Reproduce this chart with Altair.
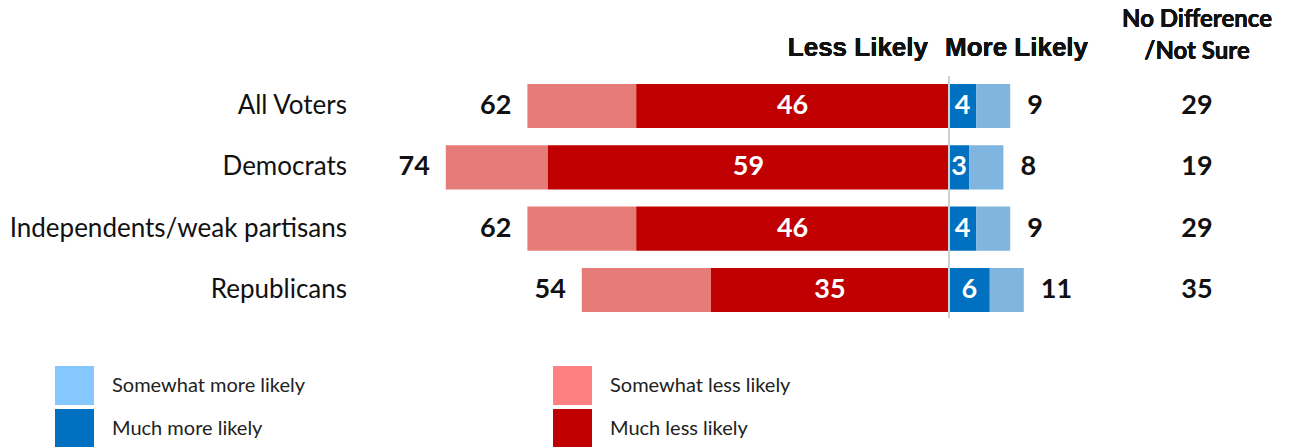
import altair as alt
import pandas as pd

groups = ["All Voters", "Democrats", "Independents/weak partisans", "Republicans"]
less_total = [62, 74, 62, 54]
much_less = [46, 59, 46, 35]
much_more = [4, 3, 4, 6]
more_total = [9, 8, 9, 11]
no_diff = [29, 19, 29, 35]

segments = ["Somewhat more likely", "Much more likely", "Somewhat less likely", "Much less likely"]
bar_colors = ["#7FB5DF", "#0070C0", "#E67C78", "#C00000"]
legend_colors = ["#85C8FF", "#0070C0", "#FF8080", "#C00000"]

rows = []
for g, lt, ml, mm, mt in zip(groups, less_total, much_less, much_more, more_total):
    rows.append({"group": g, "segment": "Somewhat less likely", "start": -lt, "end": -ml})
    rows.append({"group": g, "segment": "Much less likely", "start": -ml, "end": 0})
    rows.append({"group": g, "segment": "Much more likely", "start": 0, "end": mm})
    rows.append({"group": g, "segment": "Somewhat more likely", "start": mm, "end": mt})
bars_df = pd.DataFrame(rows)

lab_df = pd.DataFrame({
    "group": groups,
    "less_total": less_total,
    "neg_less": [-v for v in less_total],
    "much_less": much_less,
    "mid_less": [-v / 2 for v in much_less],
    "much_more": much_more,
    "mid_more": [v / 2 for v in much_more],
    "more_total": more_total,
    "no_diff": no_diff,
})

FONT = "Lato"
xscale = alt.Scale(domain=[-949 / 6.8, 341 / 6.8], nice=False, zero=False)
yscale = alt.Scale(domain=groups, range=[75.3, 320.7], paddingInner=0.28, paddingOuter=0.14)
Y = alt.Y("group:N", sort=groups, scale=yscale, axis=None)

bars = alt.Chart(bars_df).mark_bar().encode(
    x=alt.X("start:Q", scale=xscale, axis=None),
    x2="end:Q",
    y=Y,
    color=alt.Color("segment:N", scale=alt.Scale(domain=segments, range=bar_colors), legend=None),
)

legend_layer = alt.Chart(bars_df).mark_bar(opacity=0).encode(
    x=alt.X("start:Q", scale=xscale, axis=None),
    x2="end:Q",
    y=Y,
    fill=alt.Fill(
        "segment:N",
        scale=alt.Scale(domain=segments, range=legend_colors),
        legend=alt.Legend(
            title=None, orient="none", legendX=55, legendY=366, columns=2,
            symbolType="square", symbolSize=1521, symbolOpacity=1, symbolStrokeWidth=0,
            labelFont=FONT, labelFontSize=20, labelColor="#222222", labelOffset=18,
            rowPadding=4, columnPadding=247, padding=0, labelLimit=400,
        ),
    ),
)

zero_rule = alt.Chart(lab_df).mark_rule(color="#D0D0D0", strokeWidth=2).encode(
    x=alt.datum(0), y=alt.value(76), y2=alt.value(318)
)

base = alt.Chart(lab_df)
txt = dict(font=FONT, fontSize=27, fontWeight="bold")

left_lab = base.mark_text(align="right", baseline="middle", dx=-16, color="#111111", **txt).encode(
    x=alt.X("neg_less:Q", scale=xscale), y=Y, text="less_total:Q")
in_less = base.mark_text(align="center", baseline="middle", color="white", **txt).encode(
    x=alt.X("mid_less:Q", scale=xscale), y=Y, text="much_less:Q")
in_more = base.mark_text(align="center", baseline="middle", color="white", **txt).encode(
    x=alt.X("mid_more:Q", scale=xscale), y=Y, text="much_more:Q")
right_lab = base.mark_text(align="left", baseline="middle", dx=17, color="#111111", **txt).encode(
    x=alt.X("more_total:Q", scale=xscale), y=Y, text="more_total:Q")
nd_lab = base.mark_text(align="center", baseline="middle", color="#111111", **txt).encode(
    x=alt.value(1197), y=Y, text="no_diff:Q")
cat_lab = base.mark_text(align="right", baseline="middle", font=FONT, fontSize=26, color="#111111").encode(
    x=alt.value(347), y=Y, text="group:N")

hdr_arial = dict(font="Liberation Sans", fontSize=26, fontWeight="bold", color="#111111", baseline="middle")
hdr = dict(font=FONT, fontSize=24, fontWeight="bold", color="#111111", baseline="middle")
h_less = alt.Chart(lab_df).mark_text(align="right", text="Less Likely", **hdr_arial).encode(
    x=alt.value(928), y=alt.value(48))
h_more = alt.Chart(lab_df).mark_text(align="left", text="More Likely", **hdr_arial).encode(
    x=alt.value(945), y=alt.value(48))
h_nd1 = alt.Chart(lab_df).mark_text(align="center", text="No Difference", **hdr).encode(
    x=alt.value(1197), y=alt.value(20))
h_nd2 = alt.Chart(lab_df).mark_text(align="center", text="/Not Sure", **hdr).encode(
    x=alt.value(1197), y=alt.value(52))

chart = alt.layer(
    bars, legend_layer, zero_rule, left_lab, in_less, in_more, right_lab, nd_lab, cat_lab,
    h_less, h_more, h_nd1, h_nd2,
).resolve_scale(color="independent").properties(
    width=1290, height=447, autosize=alt.AutoSizeParams(type="none"), padding=0,
).configure_view(stroke=None)

chart.save("out.html", embed_options={"renderer": "svg", "actions": False})
